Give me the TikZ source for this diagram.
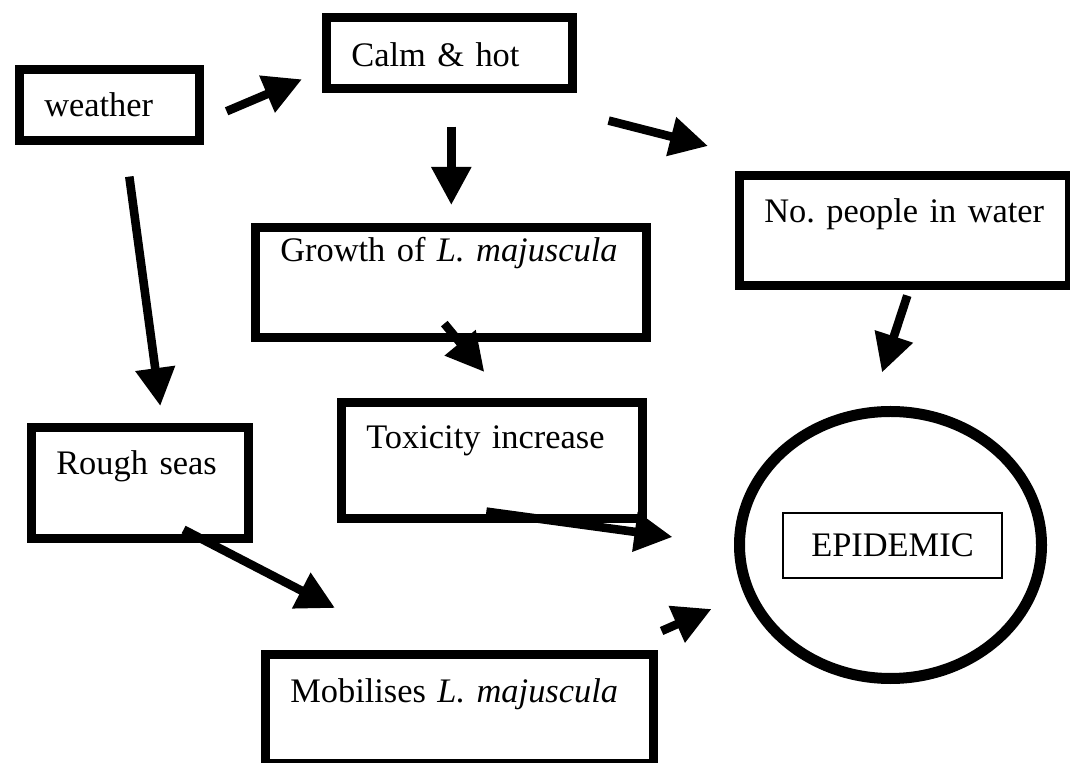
\documentclass[tikz,border=0pt]{standalone}
\usepackage{fontspec}
\setmainfont{Liberation Serif}
\usetikzlibrary{arrows.meta,shapes.geometric}
\frenchspacing

\begin{document}
\begin{tikzpicture}[
			x = 0.5pt, y = -0.5pt,
			every node/.style = {font=\fontsize{17.2}{20}\selectfont},
			factor/.style = {draw, line width=4.3pt, anchor=north west, inner xsep=12.5pt, inner ysep=0pt, align=left},
			arr/.style = {line width=4.3pt, -{Triangle[length=19pt,width=19pt]}}
			]
			\useasboundingbox (0,0) rectangle (1070,763);

			\node[factor, text width=65pt, text height=23.5pt, text depth=12pt] (weather) at (15,65) {\mbox{weather}};
			\node[factor, text width=98pt, text height=24.5pt, text depth=11pt] (calm) at (322,13) {\mbox{Calm \& hot}};
			\node[factor, text width=170.5pt, text height=17pt, text depth=38pt] (growth) at (251,223) {\mbox{Growth of \textit{L. majuscula}}};
			\node[factor, text width=140pt, text height=23.5pt, text depth=31.5pt] (people) at (735,171) {\mbox{No. people in water}};
			\node[factor, text width=83.5pt, text height=23.5pt, text depth=32pt] (rough) at (27,423) {\mbox{Rough seas}};
			\node[factor, text width=125.5pt, text height=23pt, text depth=35pt] (tox) at (337,398) {\mbox{Toxicity increase}};
			\node[factor, text width=169pt, text height=24pt, text depth=30.5pt] (mob) at (261,650) {\mbox{Mobilises \textit{L. majuscula}}};

			\node[draw, ellipse, line width=5.5pt, minimum width=151pt, minimum height=133.5pt, inner sep=0pt] (epidemic) at (890.5,545) {};
			\node[draw, line width=0.9pt, minimum width=109.5pt, inner sep=0pt, text height=22pt, text depth=10.5pt] (epibox) at (892.5,545.5) {EPIDEMIC};

			\draw[arr] ([shift={(23,6.5)}]weather.east) -- ([shift={(-20,26.5)}]calm.west);
			\draw[arr] ([shift={(2,34)}]calm.south) -- ([shift={(0.5,-18)}]growth.north);
			\draw[arr] ([shift={(32,28)}]calm.south east) -- ([shift={(-27,-25)}]people.north west);
			\draw[arr] ([shift={(20,32)}]weather.south) -- ([shift={(20.5,-17)}]rough.north);
			\draw[arr] ([shift={(3,6)}]people.south) -- ([shift={(-8.5,-33.5)}]epidemic.north);
			\draw[arr] ([shift={(-6.5,-18)}]growth.south) -- ([shift={(-7.5,-26)}]tox.north);
			\draw[arr] ([shift={(-69,-13)}]rough.south east) -- ([shift={(74,-42)}]mob.north west);
			\draw[arr] ([shift={(-5.5,-11)}]tox.south) -- ([shift={(-61.5,-8)}]epidemic.west);
			\draw[arr] ([shift={(4,-19)}]mob.north east) -- ([shift={(-22.5,64)}]epidemic.west);

		\end{tikzpicture}
\end{document}
